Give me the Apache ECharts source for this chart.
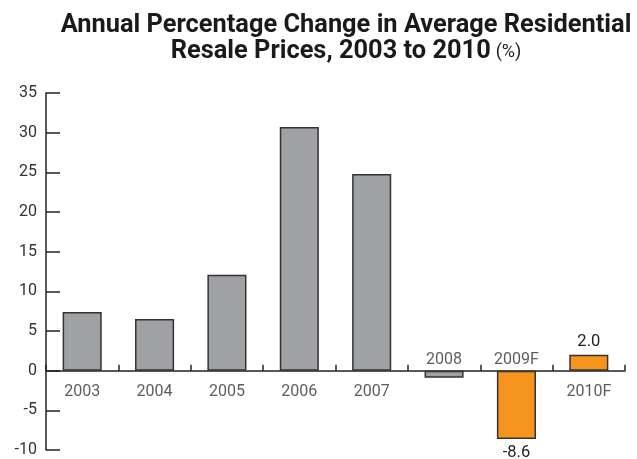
<!DOCTYPE html>
<html>
<head>
<meta charset="utf-8">
<script src="https://cdn.jsdelivr.net/npm/echarts@6/dist/echarts.min.js"></script>
<style>
  html, body { margin: 0; padding: 0; background: #fff; }
  #chart { width: 637px; height: 459px; }
</style>
</head>
<body>
<div id="chart"></div>
<script>
// Annual percentage change in average residential resale prices
const categories = ['2003', '2004', '2005', '2006', '2007', '2008', '2009F', '2010F'];
const changes = [7.4, 6.5, 12.1, 30.7, 24.8, -0.9, -8.6, 2.0];
const forecast = [false, false, false, false, false, false, true, true];
const yTicks = { min: -10, max: 35, step: 5 };

const GREY = '#a0a1a5';
const ORANGE = '#f7941e';
const FONT = '"Liberation Sans Narrow", "Roboto", sans-serif';

const barData = changes.map((v, i) => {
  const item = {
    value: v,
    itemStyle: { color: forecast[i] ? ORANGE : GREY }
  };
  if (forecast[i]) {
    item.label = {
      show: true,
      position: v < 0 ? 'bottom' : 'top',
      distance: v < 0 ? 5 : 4,
      formatter: (p) => p.value.toFixed(1),
      fontFamily: FONT,
      fontSize: 16.5,
      color: '#222'
    };
  }
  return item;
});

// Year names sit on the zero line: below it for rises, above it for falls
const yearLabels = categories.map((name, i) => ({
  value: [name, 0],
  label: {
    show: true,
    formatter: name,
    position: changes[i] < 0 ? 'top' : 'bottom',
    distance: changes[i] < 0 ? 3 : 13,
    fontFamily: FONT,
    fontSize: 16,
    color: '#333'
  }
}));

const chart = echarts.init(document.getElementById('chart'));
chart.setOption({
  animation: false,
  title: {
    text: '{b|Annual Percentage Change in Average Residential}\n{b|Resale Prices, 2003 to 2010} {n|(%)}',
    left: 341,
    top: 8,
    textAlign: 'center',
    textStyle: {
      rich: {
        b: { fontFamily: FONT, fontWeight: 'bold', fontSize: 25.4, color: '#1a1a1a', lineHeight: 26 },
        n: { fontFamily: FONT, fontWeight: 'normal', fontSize: 18, color: '#1a1a1a', lineHeight: 26 }
      }
    }
  },
  grid: { left: 46, right: 12, top: 93, bottom: 9, containLabel: false, outerBoundsMode: 'none' },
  xAxis: {
    type: 'category',
    data: categories,
    axisLine: { onZero: true, lineStyle: { color: '#222', width: 1.5 } },
    axisTick: { show: true, inside: true, length: 6, lineStyle: { color: '#222', width: 1.5 } },
    axisLabel: { show: false }
  },
  yAxis: {
    type: 'value',
    min: yTicks.min,
    max: yTicks.max,
    interval: yTicks.step,
    splitLine: { show: false },
    axisLine: { show: true, lineStyle: { color: '#222', width: 1.5 } },
    axisTick: { show: true, inside: true, length: 14, lineStyle: { color: '#222', width: 1.5 } },
    axisLabel: { margin: 9, fontFamily: FONT, fontSize: 16, color: '#333' }
  },
  series: [
    {
      type: 'bar',
      data: barData,
      barWidth: '54%',
      itemStyle: { borderColor: '#333', borderWidth: 1.5 }
    },
    {
      type: 'scatter',
      data: yearLabels,
      symbolSize: 0,
      silent: true,
      z: 5
    }
  ]
});
</script>
</body>
</html>
